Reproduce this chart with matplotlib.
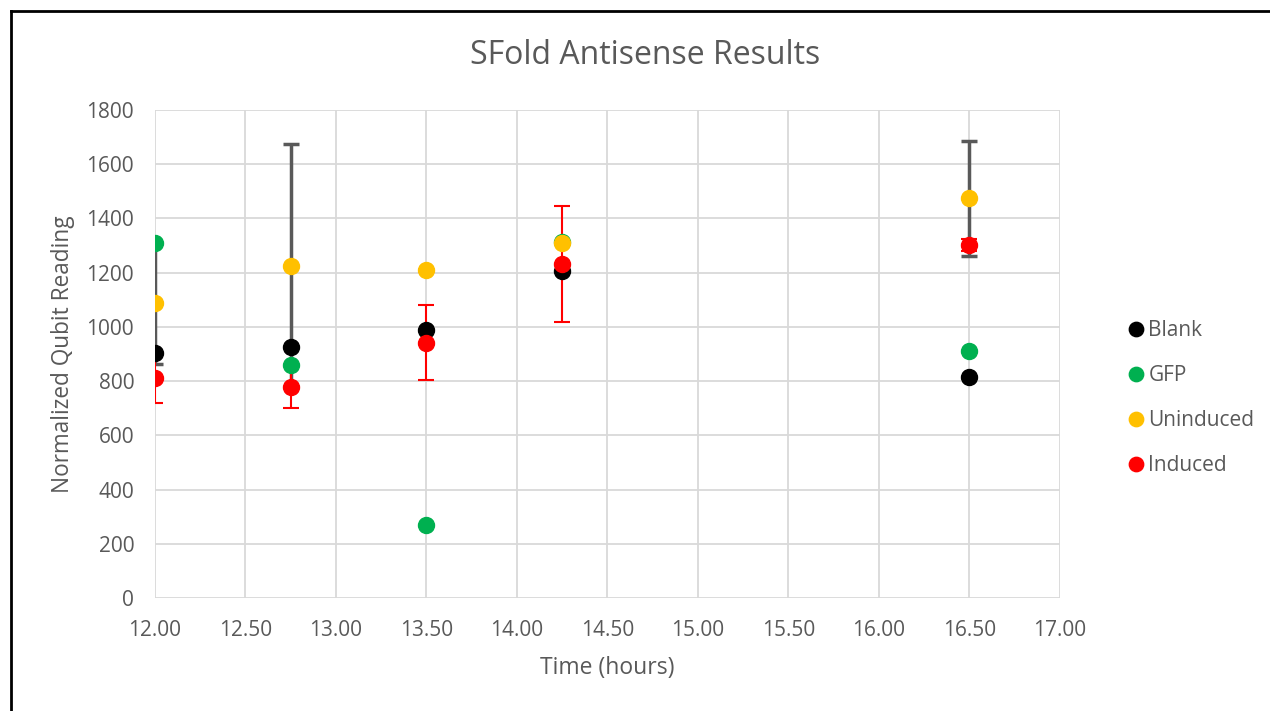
import numpy as np
import matplotlib
matplotlib.use("agg")
import matplotlib.pyplot as plt
from matplotlib.lines import Line2D

plt.rcParams['font.family'] = ['Open Sans', 'DejaVu Sans']

# data
time = [12.00, 12.75, 13.50, 14.25, 16.50]
blank = [905, 925, 989, 1206, 816]
gfp = [1310, 860, 269, 1312, 911]
uninduced = [1087, 1225, 1208, 1308, 1474]
induced = [810, 777, 942, 1232, 1302]
uninduced_err = [224, 448, 0, 0, 211]
induced_err = [90, 77, 139, 213, 22]

txt = '#595959'
grid = '#d9d9d9'

fig = plt.figure(figsize=(12.7, 7.11), dpi=100)
ax = fig.add_axes([155 / 1270, 1 - 598 / 711, 905 / 1270, 488 / 711])

# error bars first, so markers sit on top
ax.errorbar(time, uninduced, yerr=uninduced_err, fmt='none', ecolor='#595959',
            elinewidth=2.5, capsize=6, capthick=2.5, zorder=2)
ax.errorbar(time, induced, yerr=induced_err, fmt='none', ecolor='#ff0000',
            elinewidth=1.5, capsize=6, capthick=1.5, zorder=2)

series = [('Blank', blank, '#000000'), ('GFP', gfp, '#00b050'),
          ('Uninduced', uninduced, '#ffc000'), ('Induced', induced, '#ff0000')]
for name, vals, col in series:
    ax.plot(time, vals, 'o', color=col, markersize=11.5, label=name, zorder=3)

ax.set_xlim(12, 17)
ax.set_ylim(0, 1800)
ax.set_xticks(np.arange(12, 17.01, 0.5))
ax.set_xticklabels(['%.2f' % v for v in np.arange(12, 17.01, 0.5)])
ax.set_yticks(range(0, 1801, 200))
ax.grid(True, color=grid, linewidth=1.3)
ax.set_axisbelow(True)
for s in ax.spines.values():
    s.set_visible(False)
ax.tick_params(length=0, labelsize=15, colors=txt)
ax.tick_params(axis='x', pad=16)
ax.tick_params(axis='y', pad=15)

ax.set_xlabel('Time (hours)', fontsize=16.5, color=txt, labelpad=11)
ax.set_ylabel('Normalized Qubit Reading', fontsize=16.3, color=txt, labelpad=8)
fig.text(645 / 1270, 1 - 55 / 711, 'SFold Antisense Results', ha='center', va='center',
         fontsize=23, color=txt)

leg = fig.legend(loc='center left', bbox_to_anchor=(1113 / 1270, 1 - 398 / 711),
                 frameon=False, fontsize=15, handletextpad=0.0, labelspacing=1.15,
                 markerscale=0.9, handlelength=1.2, borderpad=0)
for t in leg.get_texts():
    t.set_color(txt)

# outer frame
fig.add_artist(Line2D([11 / 1270, 11 / 1270], [0, 1 - 11 / 711], color='black', lw=2,
                      transform=fig.transFigure))
fig.add_artist(Line2D([11 / 1270, 1], [1 - 11 / 711, 1 - 11 / 711], color='black', lw=2,
                      transform=fig.transFigure))

fig.savefig('out.png', dpi=100)
